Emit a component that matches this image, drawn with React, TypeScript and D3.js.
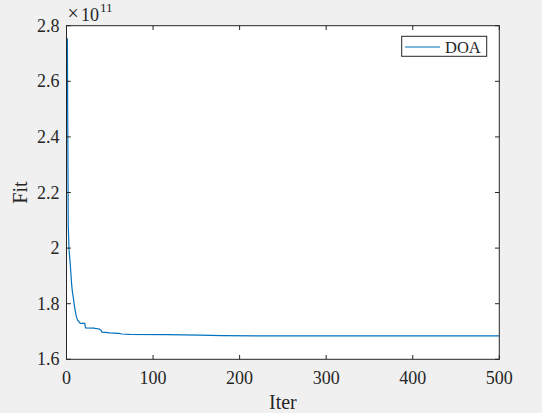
import React from "react";
import * as d3 from "d3";

const iters = [1, 2, 3, 4, 5, 6, 7, 8, 9, 10, 11, 12, 13, 14, 15, 16, 21, 22, 32, 33, 38, 40, 41, 45, 50, 60, 64, 73, 116, 154, 180, 220, 500];
const fitValues = [2.755, 2.08, 1.99, 1.956, 1.913, 1.867, 1.838, 1.82, 1.795, 1.777, 1.759, 1.748, 1.74, 1.737, 1.732, 1.729, 1.729, 1.713, 1.712, 1.711, 1.709, 1.704, 1.698, 1.697, 1.695, 1.693, 1.691, 1.69, 1.689, 1.687, 1.685, 1.684, 1.684];
const xTicks = [0, 100, 200, 300, 400, 500];
const yTicks = [1.6, 1.8, 2, 2.2, 2.4, 2.6, 2.8];
const seriesName = "DOA";

const W = 542, H = 413;
const L = 66.5, R = 499.3, T = 25.7, B = 359.3;
const FONT = "Liberation Serif";
const INK = "#262626";

export default function App() {
  const x = d3.scaleLinear().domain([0, 500]).range([L, R]);
  const y = d3.scaleLinear().domain([1.6, 2.8]).range([B, T]);
  const data = iters.map((it, i) => [it, fitValues[i]] as [number, number]);
  const line = d3.line<[number, number]>().x(d => x(d[0])).y(d => y(d[1]));
  const tl = 4.3;
  const ts = { fontFamily: FONT };
  return (
    <svg width={W} height={H} style={{ position: "absolute", left: 0, top: 0, fontFamily: FONT }}>
      <rect x={0} y={0} width={W} height={H} fill="#f0f0f0" />
      <rect x={L} y={T} width={R - L} height={B - T} fill="#fff" />
      <path d={line(data) || ""} fill="none" stroke="#0072BD" strokeWidth={1.2} />
      {xTicks.map(t => (
        <g key={"x" + t}>
          <line x1={x(t)} x2={x(t)} y1={B} y2={B - tl} stroke={INK} />
          <line x1={x(t)} x2={x(t)} y1={T} y2={T + tl} stroke={INK} />
          <text style={ts} x={x(t)} y={384} textAnchor="middle" fontSize={18} fill={INK}>{t}</text>
        </g>
      ))}
      {yTicks.map(t => (
        <g key={"y" + t}>
          <line x1={L} x2={L + tl} y1={y(t)} y2={y(t)} stroke={INK} />
          <line x1={R} x2={R - tl} y1={y(t)} y2={y(t)} stroke={INK} />
          <text style={ts} x={59.5} y={y(t) + 6} textAnchor="end" fontSize={18} fill={INK}>{d3.format("")(t)}</text>
        </g>
      ))}
      <rect x={L} y={T} width={R - L} height={B - T} fill="none" stroke={INK} strokeWidth={1} />
      <text style={ts} x={67.5} y={20} fontSize={20} fill={INK}>×</text>
      <text style={ts} x={81} y={20.5} fontSize={18} fill={INK}>10</text>
      <text style={ts} x={100} y={11.5} fontSize={13} fill={INK}>11</text>
      <text style={ts} x={(L + R) / 2} y={409} textAnchor="middle" fontSize={20} fill={INK}>Iter</text>
      <text style={ts} transform={`translate(27,${(T + B) / 2}) rotate(-90)`} textAnchor="middle" fontSize={20} fill={INK}>Fit</text>
      <g>
        <rect x={401.7} y={36.3} width={85} height={20} fill="#fff" stroke={INK} strokeWidth={1} />
        <line x1={405} x2={440} y1={47} y2={47} stroke="#0072BD" strokeWidth={1.2} />
        <text style={ts} x={445} y={53} fontSize={16.5} fill={INK}>{seriesName}</text>
      </g>
    </svg>
  );
}
